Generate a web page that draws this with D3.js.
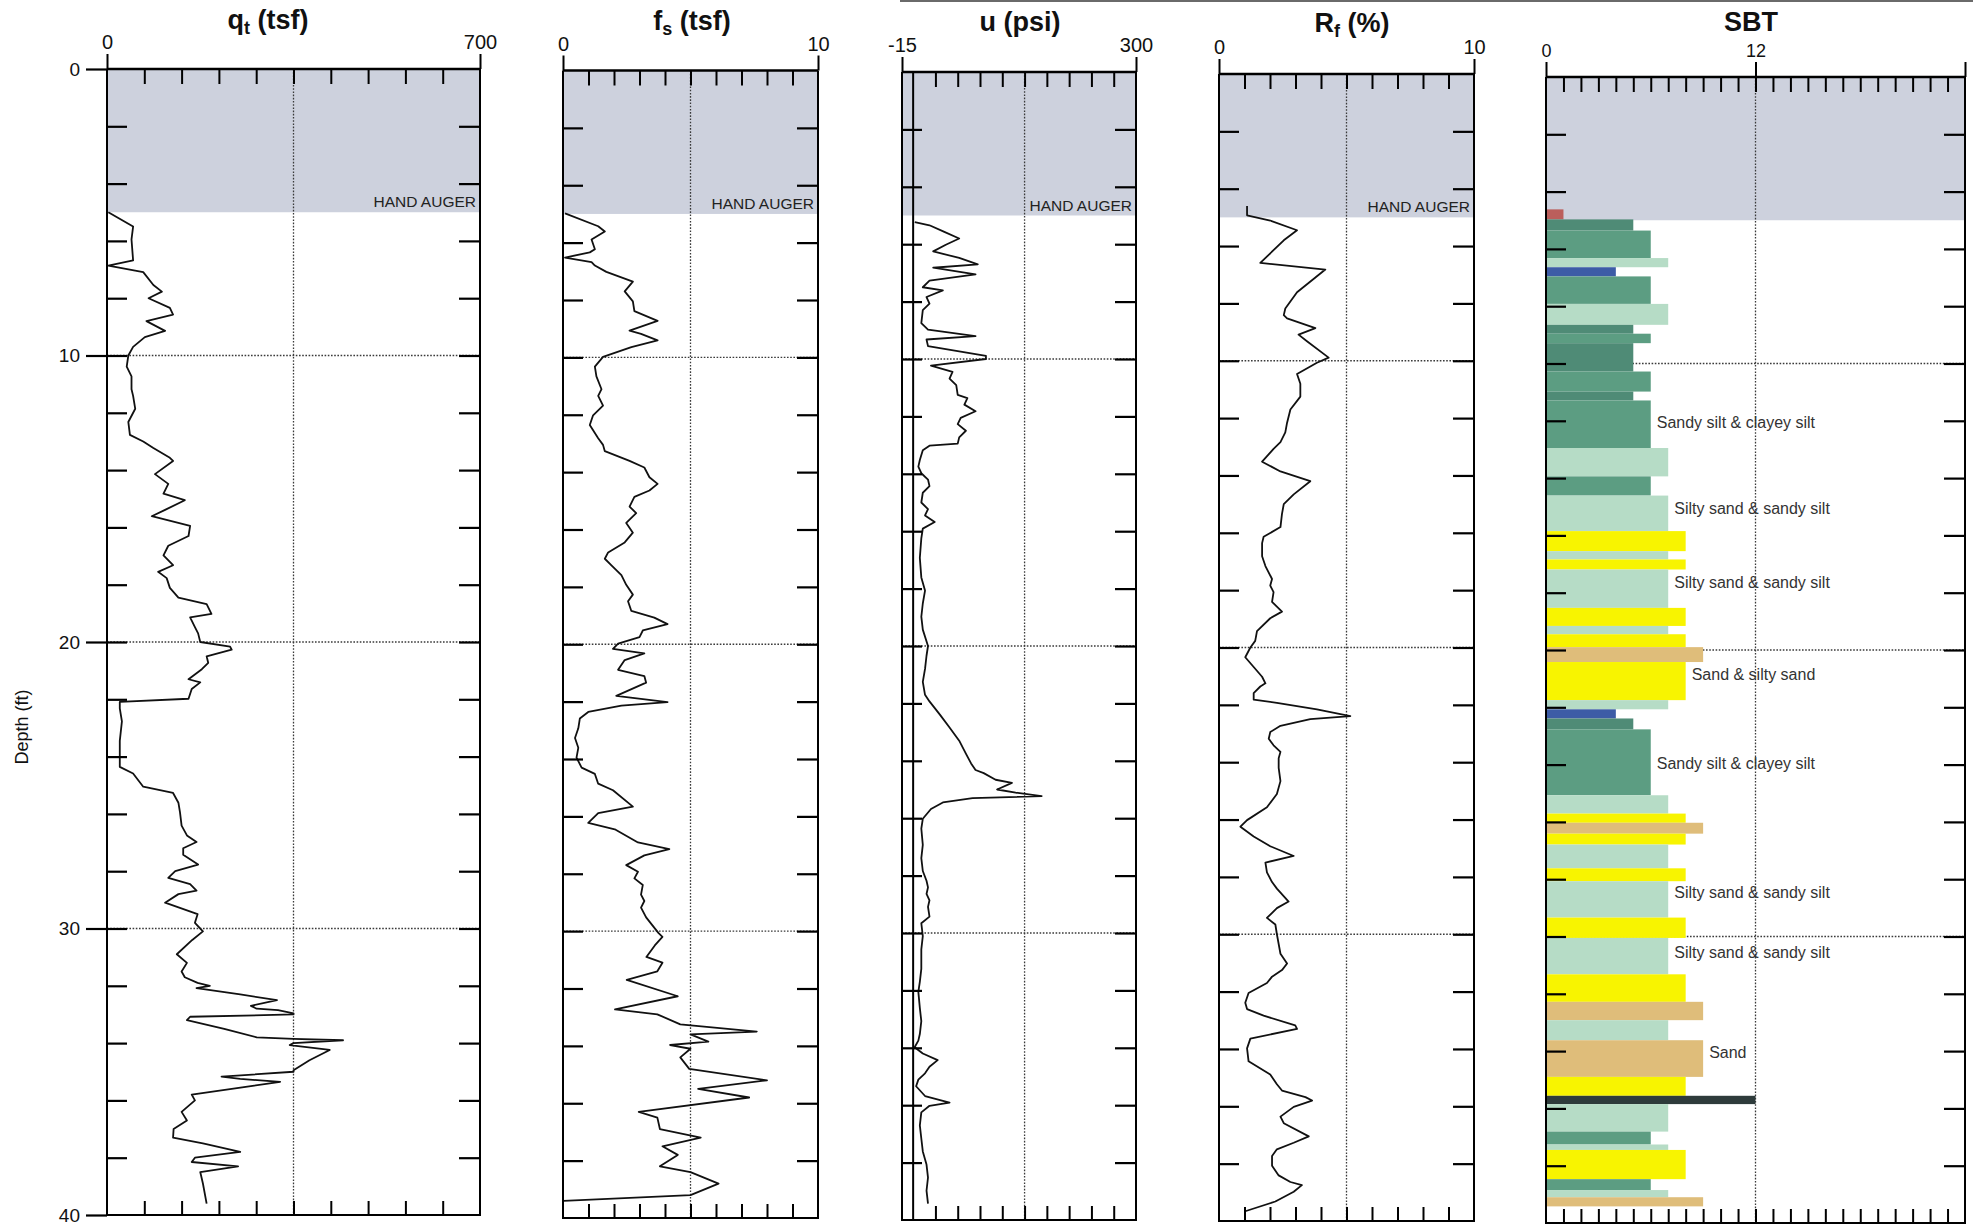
<!DOCTYPE html>
<html>
<head>
<meta charset="utf-8">
<script src="https://cdn.jsdelivr.net/npm/d3@7"></script>
<style>
  html, body { margin: 0; padding: 0; background: #fff; }
  svg { display: block; font-family: Arial, "Liberation Sans", Helvetica, sans-serif; }
</style>
</head>
<body>
<svg id="chart" width="1973" height="1224"></svg>
<script>
// ---- CPT sounding data: [depth (ft), value] ----
const qtData = [[5.0,2.5],[5.5,49],[5.95,46],[6.68,49],[6.86,2.5],[7.09,68],[7.54,87],[7.77,103],[8.0,78],[8.34,118],[8.57,124],[8.8,74],[9.14,109],[9.36,71],[9.7,49],[10.0,40],[10.39,37],[10.73,46],[11.18,46],[11.41,49],[11.86,53],[12.32,40],[12.77,43],[13.0,68],[13.23,87],[13.57,118],[13.68,124],[14.14,90],[14.48,115],[14.82,106],[15.05,146],[15.39,109],[15.61,84],[15.95,156],[16.3,153],[16.64,115],[16.98,106],[17.32,124],[17.55,96],[17.77,112],[18.11,118],[18.45,134],[18.68,187],[19.02,196],[19.14,156],[19.48,165],[19.7,171],[20.0,175],[20.16,231],[20.27,234],[20.5,187],[20.73,190],[20.95,178],[21.3,153],[21.41,175],[21.64,159],[21.98,153],[22.09,24],[22.32,24],[22.77,28],[23.45,24],[23.91,24],[24.36,24],[24.59,49],[25.05,68],[25.27,124],[25.61,134],[25.95,137],[26.41,140],[26.75,150],[26.98,168],[27.2,143],[27.43,143],[27.77,171],[28.0,128],[28.23,115],[28.45,156],[28.68,168],[28.8,134],[29.1,109],[29.5,170],[29.8,165],[30.1,180],[30.4,160],[30.9,131],[31.2,150],[31.5,140],[31.7,146],[31.9,170],[32.0,193],[32.08,168],[32.3,250],[32.5,319],[32.7,270],[32.8,281],[32.85,321],[32.96,350],[33.0,350],[33.08,156],[33.2,150],[33.5,220],[33.8,281],[33.85,350],[33.9,443],[34.0,350],[34.07,343],[34.24,418],[34.6,380],[34.95,350],[35.0,350],[35.17,215],[35.25,250],[35.35,325],[35.5,270],[35.8,159],[36.0,165],[36.4,140],[36.7,150],[37.0,125],[37.3,124],[37.5,180],[37.8,250],[38.0,165],[38.15,159],[38.3,246],[38.5,175],[38.9,180],[39.6,187]];

const fsData = [[4.98,0.08],[5.43,1.38],[5.61,1.64],[5.89,1.12],[6.23,1.25],[6.34,1.05],[6.52,0.08],[6.68,1.12],[6.8,1.25],[7.02,1.7],[7.36,2.74],[7.7,2.42],[8.05,2.74],[8.39,2.8],[8.73,3.71],[9.07,2.61],[9.18,3.06],[9.41,3.71],[9.64,2.68],[9.98,1.57],[10.32,1.25],[10.66,1.31],[11.11,1.51],[11.34,1.38],[11.68,1.57],[12.02,1.18],[12.36,1.05],[12.82,1.38],[13.05,1.57],[13.27,1.64],[13.61,2.61],[13.84,3.19],[14.18,3.39],[14.41,3.71],[14.64,3.39],[14.86,2.8],[15.2,2.61],[15.43,2.87],[15.77,2.48],[16.11,2.74],[16.45,2.42],[16.8,1.77],[17.02,1.64],[17.25,1.9],[17.59,2.29],[17.93,2.48],[18.27,2.74],[18.5,2.55],[18.84,2.68],[19.07,3.58],[19.3,4.1],[19.52,3.13],[19.75,3.0],[19.98,2.16],[20.16,1.96],[20.32,3.19],[20.55,2.42],[20.89,2.16],[21.11,3.19],[21.34,3.26],[21.8,2.09],[22.02,4.1],[22.14,2.29],[22.36,0.99],[22.59,0.66],[22.93,0.6],[23.27,0.47],[23.61,0.6],[23.95,0.53],[24.3,0.73],[24.52,1.25],[24.86,1.38],[25.09,1.96],[25.66,2.74],[25.89,1.38],[26.23,0.99],[26.45,2.03],[26.91,2.94],[27.14,4.17],[27.36,3.19],[27.7,2.48],[27.93,2.94],[28.16,2.8],[28.39,3.13],[28.73,3.06],[28.95,3.19],[29.18,3.06],[29.52,3.26],[30.06,3.74],[30.2,3.9],[30.5,3.6],[30.9,3.27],[31.1,3.9],[31.4,3.7],[31.7,2.5],[32.27,4.5],[32.73,2.04],[32.9,3.7],[33.25,4.6],[33.5,7.6],[33.6,5.0],[33.85,5.7],[33.97,4.2],[34.1,5.0],[34.4,4.6],[34.8,4.95],[35.2,8.0],[35.5,5.3],[35.8,7.3],[36.3,2.97],[36.5,3.7],[36.9,3.8],[37.2,5.4],[37.5,3.9],[37.8,4.5],[38.2,3.8],[38.4,5.0],[38.8,6.1],[39.2,5.0],[39.4,0.02]];

const uData = [[5.23,2.2],[5.34,22],[5.57,42],[5.8,62],[6.02,44],[6.25,27],[6.48,62],[6.7,87],[6.82,27],[7.05,84],[7.27,22],[7.5,13],[7.61,40],[7.84,18],[8.07,22],[8.3,13],[8.75,11],[8.98,20],[9.2,84],[9.32,18],[9.55,20],[9.89,98],[10.0,98],[10.23,24],[10.45,53],[10.68,49],[10.91,58],[11.25,60],[11.36,73],[11.59,69],[11.82,84],[12.05,64],[12.27,60],[12.5,71],[12.73,62],[12.95,60],[13.02,22],[13.18,13],[13.52,9],[13.75,7],[13.98,11],[14.2,20],[14.43,22],[14.66,13],[15.0,11],[15.23,20],[15.45,16],[15.68,29],[15.91,13],[16.25,11],[16.93,9],[17.61,11],[18.07,16],[18.52,13],[18.98,11],[19.43,13],[20.0,20],[20.34,18],[20.8,16],[21.25,13],[21.7,16],[21.93,22],[22.39,36],[22.84,49],[23.3,62],[23.75,71],[24.09,78],[24.32,84],[24.43,95],[24.66,111],[24.77,133],[25.0,113],[25.11,138],[25.23,173],[25.3,80],[25.45,40],[25.68,24],[26.02,13],[26.36,11],[26.93,13],[27.39,11],[27.84,13],[28.18,18],[28.41,20],[28.64,18],[28.86,22],[29.09,20],[29.43,22],[29.66,11],[30.11,13],[30.57,11],[31.25,11],[31.7,9],[32.05,7],[32.61,9],[33.07,11],[33.52,9],[33.75,7],[33.98,2],[34.2,13],[34.43,33],[34.66,22],[34.89,16],[35.11,7],[35.34,4],[35.68,16],[35.91,49],[36.02,22],[36.25,11],[36.7,9],[37.16,11],[37.61,13],[38.07,18],[38.52,20],[38.98,18],[39.43,20]];

const rfData = [[4.6,1.1],[4.93,1.1],[5.11,2.01],[5.45,3.06],[5.8,2.54],[6.59,1.62],[6.82,4.17],[7.61,3.06],[8.18,2.6],[8.41,2.54],[8.52,2.67],[8.86,3.78],[9.09,3.12],[9.32,3.45],[9.89,4.3],[10.07,3.84],[10.46,3.06],[10.8,3.19],[11.25,3.19],[11.7,2.8],[12.16,2.67],[12.5,2.6],[12.84,2.41],[13.07,2.14],[13.52,1.69],[13.86,2.41],[14.2,3.58],[14.66,2.93],[15.0,2.54],[15.34,2.47],[15.8,2.41],[16.14,1.75],[16.36,1.69],[16.82,1.69],[17.16,1.82],[17.61,2.08],[17.84,2.01],[18.07,2.14],[18.41,2.08],[18.75,2.47],[18.98,2.01],[19.43,1.49],[19.77,1.42],[20.0,1.23],[20.34,1.03],[20.68,1.36],[21.02,1.69],[21.25,1.82],[21.36,1.62],[21.59,1.36],[21.82,1.36],[21.93,2.27],[22.16,3.84],[22.39,5.15],[22.5,3.58],[22.73,2.41],[22.95,2.01],[23.18,1.95],[23.41,2.14],[23.64,2.41],[23.86,2.34],[24.2,2.34],[24.66,2.41],[25.11,2.27],[25.57,1.88],[26.02,1.1],[26.25,0.84],[26.59,1.36],[26.93,2.01],[27.27,2.93],[27.5,1.82],[27.84,1.88],[28.18,2.08],[28.41,2.27],[28.86,2.73],[29.09,2.27],[29.43,1.88],[29.66,2.21],[30.0,2.27],[30.34,2.34],[30.68,2.41],[31.02,2.67],[31.25,2.47],[31.48,2.08],[31.7,1.88],[32.05,1.16],[32.39,1.03],[32.61,1.1],[32.84,1.75],[33.18,2.99],[33.3,3.06],[33.64,1.23],[33.98,1.1],[34.43,1.16],[34.89,2.01],[35.23,2.27],[35.45,2.47],[35.68,3.39],[35.8,3.65],[36.02,2.93],[36.36,2.41],[36.59,2.54],[37.05,3.52],[37.27,2.93],[37.5,2.27],[37.73,2.08],[38.07,2.08],[38.41,2.34],[38.64,2.8],[38.75,3.25],[38.98,2.93],[39.32,2.21],[39.66,1.03]];

// Soil behaviour type layers: top depth, bottom depth, SBT zone
const sbtTop    = [4.62,4.97,5.36,6.32,6.64,6.96,7.92,8.65,8.96,9.29,10.28,10.98,11.29,12.95,13.94,14.61,15.85,16.55,16.84,17.19,18.53,19.16,19.45,19.9,20.42,21.75,22.07,22.39,22.77,25.07,25.71,26.03,26.41,26.79,27.62,28.07,29.34,30.05,31.32,32.28,32.92,33.62,34.9,35.56,35.85,36.81,37.26,37.45,38.47,38.85,39.1];
const sbtBottom = [4.97,5.36,6.32,6.64,6.96,7.92,8.65,8.96,9.29,10.28,10.98,11.29,12.95,13.94,14.61,15.85,16.55,16.84,17.19,18.53,19.16,19.45,19.9,20.42,21.75,22.07,22.39,22.77,25.07,25.71,26.03,26.41,26.79,27.62,28.07,29.34,30.05,31.32,32.28,32.92,33.62,34.9,35.56,35.85,36.81,37.26,37.45,38.47,38.85,39.1,39.42];
const sbtZone   = [1,5,6,7,4,6,7,5,6,5,6,5,6,7,6,7,8,7,8,7,8,7,8,9,8,7,4,5,6,7,8,9,8,7,8,7,8,7,8,9,7,9,8,12,7,6,7,8,6,7,9];

// Soil type annotations beside the SBT column
const sbtLabelText  = ['Sandy silt & clayey silt','Silty sand & sandy silt','Silty sand & sandy silt','Sand & silty sand','Sandy silt & clayey silt','Silty sand & sandy silt','Silty sand & sandy silt','Sand'];
const sbtLabelDepth = [12.1, 15.1, 17.7, 20.9, 24.0, 28.5, 30.6, 34.1];
const sbtLabelZone  = [6, 7, 7, 8, 6, 7, 7, 9];

// Axis ranges and labels
const qtRange = [0, 700];
const fsRange = [0, 10];
const uRange  = [-15, 300];
const rfRange = [0, 10];
const sbtRange = [0, 24];
const depthLabels = [0, 10, 20, 30, 40];
const augerDepth = 5;

const zoneColor = {1:'#bb5f5c', 4:'#3d5ca6', 5:'#4f8b76', 6:'#5c9d82', 7:'#b6dcc6', 8:'#f8f400', 9:'#dfbd7a', 12:'#2e3b3b'};

const svg = d3.select('#chart');
svg.append('rect').attr('width', 1973).attr('height', 1224).attr('fill', '#fff');

// thin dark edge along the top of the sheet
svg.append('line').attr('x1', 900).attr('x2', 1973).attr('y1', 1).attr('y2', 1)
  .attr('stroke', '#6a6a6a').attr('stroke-width', 2);

const panels = [
  {kind:'line', data:qtData, domain:qtRange, step:70, grid:350, x0:107, x1:480, top:69, bottom:1215,
   labels:[0,700], labelSize:20, title:['q','t',' (tsf)'], titleX:268, titleY:29, depthAxis:true},
  {kind:'line', data:fsData, domain:fsRange, step:1, grid:5, x0:563, x1:818, top:70.5, bottom:1218,
   labels:[0,10], labelSize:20, title:['f','s',' (tsf)'], titleX:692, titleY:30},
  {kind:'line', data:uData, domain:uRange, step:30, grid:150, x0:902, x1:1136, top:72, bottom:1220,
   labels:[-15,300], labelSize:20, title:['u (psi)','',''], titleX:1020, titleY:31, zeroLine:true, tickStart:30},
  {kind:'line', data:rfData, domain:rfRange, step:1, grid:5, x0:1219, x1:1474, top:74, bottom:1221,
   labels:[0,10], labelSize:20, title:['R','f',' (%)'], titleX:1352, titleY:32},
  {kind:'sbt', domain:sbtRange, step:1, grid:12, x0:1546, x1:1965, top:77, bottom:1223,
   labels:[0,12,24], labelSize:18, title:['SBT','',''], titleX:1751, titleY:31}
];

function styleAxis(sel, width) {
  sel.select('.domain').remove();
  sel.selectAll('.tick line').attr('stroke', '#000').attr('stroke-width', width);
}

panels.forEach(p => {
  const g = svg.append('g');
  const x = d3.scaleLinear().domain(p.domain).range([p.x0, p.x1]);
  const y = d3.scaleLinear().domain([0, 40]).range([p.top, p.bottom]);

  // hand-auger interval
  g.append('rect')
    .attr('x', p.x0).attr('y', y(0))
    .attr('width', p.x1 - p.x0).attr('height', y(augerDepth) - y(0))
    .attr('fill', '#cdd1dd');

  // dotted grid
  const grid = g.append('g').attr('stroke', '#3a3a3a').attr('stroke-width', 1.3)
    .attr('stroke-dasharray', '1.6,1.6');
  grid.append('line').attr('x1', x(p.grid)).attr('x2', x(p.grid)).attr('y1', y(0)).attr('y2', y(40));
  [10, 20, 30].forEach(d => {
    grid.append('line').attr('x1', p.x0).attr('x2', p.x1).attr('y1', y(d)).attr('y2', y(d));
  });

  if (p.zeroLine) {
    g.append('line').attr('x1', x(0)).attr('x2', x(0)).attr('y1', y(0)).attr('y2', y(40))
      .attr('stroke', '#000').attr('stroke-width', 2);
  }

  if (p.kind === 'line') {
    const line = d3.line().x(d => x(d[1])).y(d => y(d[0]));
    g.append('path').datum(p.data).attr('d', line)
      .attr('fill', 'none').attr('stroke', '#111').attr('stroke-width', 1.8)
      .attr('stroke-linejoin', 'round');
  } else {
    const layers = sbtZone.map((z, i) => ({top: sbtTop[i], bottom: sbtBottom[i], zone: z}));
    g.append('g').selectAll('rect').data(layers).join('rect')
      .attr('x', x(0)).attr('y', d => y(d.top))
      .attr('width', d => x(d.zone) - x(0))
      .attr('height', d => y(d.bottom) - y(d.top))
      .attr('fill', d => zoneColor[d.zone]);
    const labels = sbtLabelText.map((t, i) => ({text: t, depth: sbtLabelDepth[i], zone: sbtLabelZone[i]}));
    g.append('g').selectAll('text').data(labels).join('text')
      .attr('x', d => x(d.zone) + 6).attr('y', d => y(d.depth))
      .attr('dominant-baseline', 'middle')
      .attr('font-size', 16).attr('fill', '#333')
      .text(d => d.text);
  }

  // HAND AUGER note
  if (p.kind === 'line') {
    g.append('text').attr('x', p.x1 - 4).attr('y', y(augerDepth) - 5)
      .attr('text-anchor', 'end').attr('font-size', 15.5).attr('fill', '#222')
      .text('HAND AUGER');
  }

  // inner value ticks, top and bottom
  const start = p.tickStart !== undefined ? p.tickStart : p.domain[0] + p.step;
  const minor = d3.range(start, p.domain[1] - 1e-9, p.step);
  g.append('g').attr('transform', `translate(0,${y(0)})`)
    .call(d3.axisBottom(x).tickValues(minor).tickSize(15).tickFormat(''))
    .call(s => styleAxis(s, 2));
  g.append('g').attr('transform', `translate(0,${y(40)})`)
    .call(d3.axisTop(x).tickValues(minor).tickSize(14).tickFormat(''))
    .call(s => styleAxis(s, 2));

  // inner depth ticks, left and right
  const depthTicks = d3.range(2, 40, 2);
  g.append('g').attr('transform', `translate(${p.x0},0)`)
    .call(d3.axisRight(y).tickValues(depthTicks).tickSize(20).tickFormat(''))
    .call(s => styleAxis(s, 2.2));
  g.append('g').attr('transform', `translate(${p.x1},0)`)
    .call(d3.axisLeft(y).tickValues(depthTicks).tickSize(21).tickFormat(''))
    .call(s => styleAxis(s, 2.2));

  // frame
  g.append('path')
    .attr('d', `M${p.x0},${y(0)}V${y(40)}H${p.x1}V${y(0)}`)
    .attr('fill', 'none').attr('stroke', '#000').attr('stroke-width', 2);
  g.append('line').attr('x1', p.x0).attr('x2', p.x1).attr('y1', y(0)).attr('y2', y(0))
    .attr('stroke', '#000').attr('stroke-width', 2.6);

  // range labels above the panel
  const top = g.append('g').attr('transform', `translate(0,${y(0)})`)
    .call(d3.axisTop(x).tickValues(p.labels).tickSize(15).tickPadding(5)
      .tickFormat(v => (p.kind === 'sbt' && v === 24) ? '' : String(v)))
    .call(s => styleAxis(s, 2));
  top.selectAll('text').attr('font-size', p.labelSize).attr('fill', '#111')
    .attr('font-family', 'Arial, "Liberation Sans", sans-serif');

  // depth labels
  if (p.depthAxis) {
    const da = g.append('g').attr('transform', `translate(${p.x0},0)`)
      .call(d3.axisLeft(y).tickValues(depthLabels).tickSize(21).tickPadding(6))
      .call(s => styleAxis(s, 2.2));
    da.selectAll('text').attr('font-size', 19).attr('fill', '#111')
      .attr('font-family', 'Arial, "Liberation Sans", sans-serif');
  }

  // title
  const t = g.append('text').attr('x', p.titleX).attr('y', p.titleY)
    .attr('text-anchor', 'middle').attr('font-size', 27).attr('font-weight', 'bold').attr('fill', '#111');
  t.append('tspan').text(p.title[0]);
  if (p.title[1]) {
    t.append('tspan').attr('font-size', 18).attr('dy', 5).text(p.title[1]);
    t.append('tspan').attr('dy', -5).text(p.title[2]);
  }
});

// vertical axis title
svg.append('text')
  .attr('transform', 'translate(28,727) rotate(-90)')
  .attr('text-anchor', 'middle').attr('font-size', 18).attr('fill', '#111')
  .text('Depth (ft)');
</script>
</body>
</html>
